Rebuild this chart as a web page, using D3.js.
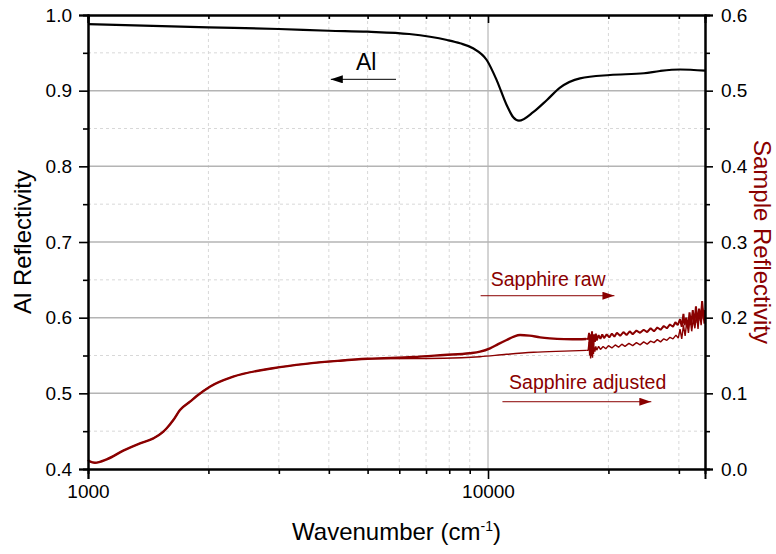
<!DOCTYPE html>
<html>
<head>
<meta charset="utf-8">
<script src="https://cdn.jsdelivr.net/npm/d3@7"></script>
<style>
  body { margin: 0; background: #fff; }
  svg { font-family: "Liberation Sans", Arial, sans-serif; }
  .axis path, .axis line { stroke: #000; }
  .axis text { font-size: 19px; fill: #000; }
</style>
</head>
<body>
<svg id="chart"></svg>
<script>
// Al reference mirror (left axis)
const alWavenumber = [1000, 2000, 3000, 4000, 5000, 6353, 7900, 8511, 9173, 9925, 10510, 11132, 11564, 11950, 12995, 14040, 15136, 16982, 20180, 24550, 26915, 30200, 34870];
const alReflect = [0.988, 0.9837, 0.9815, 0.9792, 0.9779, 0.9749, 0.967, 0.9626, 0.956, 0.9405, 0.914, 0.881, 0.8648, 0.8603, 0.872, 0.8877, 0.904, 0.9163, 0.9207, 0.923, 0.926, 0.928, 0.9264];

// sapphire, low-wavenumber part shared by both curves (right axis)
const sharedWavenumber = [1000, 1010, 1041, 1114, 1225, 1349, 1457, 1543, 1573, 1634, 1698, 1799, 1870, 2017, 2306, 2899, 3500, 4266];
const sharedReflect = [0.0119, 0.010, 0.0083, 0.0128, 0.0242, 0.0339, 0.0405, 0.0493, 0.0538, 0.0647, 0.078, 0.089, 0.0965, 0.1088, 0.122, 0.1331, 0.139, 0.1431];

// smooth middle parts
const rawWavenumber = [5000, 6500, 7763, 9000, 9550, 10116, 10600, 11130, 11600, 12023, 12700, 13500, 14280, 15500, 16264, 17600];
const rawReflect = [0.1457, 0.148, 0.1507, 0.1530, 0.1551, 0.1595, 0.165, 0.1705, 0.175, 0.1771, 0.1762, 0.174, 0.1727, 0.1716, 0.1714, 0.1718];
const adjWavenumber = [5000, 6500, 7763, 9550, 11130, 13000, 15500, 17600];
const adjReflect = [0.1455, 0.146, 0.1463, 0.1484, 0.1516, 0.1542, 0.1558, 0.1568];

// noisy high-wavenumber tails
const rawNoisyWavenumber = [17600, 17800, 17900, 17950, 18000, 18050, 18100, 18150, 18200, 18250, 18300, 18350, 18400, 18500, 18600, 18700, 18900,
  19100, 19300, 19500, 19800, 20100, 20400, 20700, 21000, 21400, 21800, 22200, 22600, 23000, 23500, 24000, 24500,
  25000, 25500, 26000, 26500, 27000, 27500, 28000, 28500, 29000, 29400, 29800, 30200, 30500, 30800, 31000, 31300,
  31600, 31900, 32200, 32500, 32800, 33100, 33400, 33700, 34000, 34300, 34600, 34870];
const rawNoisyReflect = [0.1718, 0.1722, 0.180, 0.160, 0.178, 0.150, 0.176, 0.156, 0.182, 0.152, 0.177, 0.162, 0.178, 0.168, 0.179, 0.170, 0.177,
  0.172, 0.178, 0.173, 0.178, 0.174, 0.179, 0.175, 0.180, 0.176, 0.181, 0.177, 0.182, 0.178, 0.183, 0.180, 0.184,
  0.181, 0.186, 0.182, 0.187, 0.184, 0.189, 0.186, 0.191, 0.188, 0.194, 0.190, 0.198, 0.188, 0.205, 0.190, 0.200,
  0.186, 0.207, 0.190, 0.210, 0.192, 0.215, 0.193, 0.212, 0.196, 0.222, 0.198, 0.210];
const adjNoisyWavenumber = [17600, 17800, 17900, 17950, 18000, 18050, 18100, 18150, 18200, 18250, 18300, 18350, 18400, 18500, 18600, 18700, 18900,
  19100, 19400, 19700, 20000, 20400, 20800, 21200, 21600, 22000, 22500, 23000, 23500, 24000, 24500, 25000, 25500,
  26000, 26500, 27000, 27500, 28000, 28500, 29000, 29500, 29900, 30200, 30500, 30800, 31100, 31400, 31700, 32000,
  32300, 32600, 32900, 33200, 33500, 33800, 34100, 34400, 34700, 34870];
const adjNoisyReflect = [0.1568, 0.157, 0.168, 0.150, 0.166, 0.146, 0.163, 0.149, 0.172, 0.147, 0.165, 0.152, 0.162, 0.155, 0.162, 0.157, 0.162,
  0.158, 0.162, 0.159, 0.163, 0.160, 0.164, 0.161, 0.165, 0.162, 0.166, 0.163, 0.167, 0.164, 0.168, 0.165, 0.169,
  0.167, 0.171, 0.168, 0.172, 0.170, 0.174, 0.172, 0.177, 0.173, 0.185, 0.172, 0.190, 0.176, 0.195, 0.180, 0.200,
  0.182, 0.198, 0.186, 0.205, 0.185, 0.208, 0.190, 0.212, 0.192, 0.200];

const xMajorTicks = [1000, 10000];
const xMinorTicks = [2000, 3000, 4000, 5000, 6000, 7000, 8000, 9000, 20000, 30000];
const leftTicks = [0.4, 0.5, 0.6, 0.7, 0.8, 0.9, 1.0];
const leftMinor = [0.45, 0.55, 0.65, 0.75, 0.85, 0.95];
const rightTicks = [0.0, 0.1, 0.2, 0.3, 0.4, 0.5, 0.6];
const rightMinor = [0.05, 0.15, 0.25, 0.35, 0.45, 0.55];

const wine = '#8a0000';

const width = 776, height = 554;
const margin = {top: 15, right: 71, bottom: 85, left: 88};
const w = width - margin.left - margin.right;
const h = height - margin.top - margin.bottom;

const svg = d3.select('#chart').attr('width', width).attr('height', height);
const chart = svg.append('g').attr('transform', `translate(${margin.left},${margin.top})`);

const x = d3.scaleLog().domain([1000, 34870]).range([0, w]);
const yL = d3.scaleLinear().domain([0.4, 1.0]).range([h, 0]);
const yR = d3.scaleLinear().domain([0.0, 0.6]).range([h, 0]);

// grid
const grid = chart.append('g');
grid.selectAll('.vminor').data(xMinorTicks).join('line')
    .attr('x1', d => x(d)).attr('x2', d => x(d)).attr('y1', 0).attr('y2', h)
    .attr('stroke', '#d8d8d8').attr('stroke-dasharray', '3,3');
grid.selectAll('.hminor').data(leftMinor).join('line')
    .attr('x1', 0).attr('x2', w).attr('y1', d => yL(d)).attr('y2', d => yL(d))
    .attr('stroke', '#d8d8d8').attr('stroke-dasharray', '3,3');
grid.append('line')
    .attr('x1', x(10000)).attr('x2', x(10000)).attr('y1', 0).attr('y2', h)
    .attr('stroke', '#a8a8a8').attr('stroke-width', 1);
grid.selectAll('.hmajor').data(leftTicks.slice(1, -1)).join('line')
    .attr('x1', 0).attr('x2', w).attr('y1', d => yL(d)).attr('y2', d => yL(d))
    .attr('stroke', '#b4b4b4').attr('stroke-width', 1.5);

// curves
const alLine = d3.line().x(d => x(d[0])).y(d => yL(d[1])).curve(d3.curveMonotoneX);
const sLine = d3.line().x(d => x(d[0])).y(d => yR(d[1])).curve(d3.curveMonotoneX);
const sNoisy = d3.line().x(d => x(d[0])).y(d => yR(d[1]));

const alData = d3.zip(alWavenumber, alReflect);
const rawData = d3.zip(sharedWavenumber.concat(rawWavenumber), sharedReflect.concat(rawReflect));
const adjData = d3.zip(sharedWavenumber.concat(adjWavenumber), sharedReflect.concat(adjReflect));
const rawNoisy = d3.zip(rawNoisyWavenumber, rawNoisyReflect);
const adjNoisy = d3.zip(adjNoisyWavenumber, adjNoisyReflect);

chart.append('path').datum(adjData).attr('d', sLine)
    .attr('fill', 'none').attr('stroke', wine).attr('stroke-width', 1.4);
chart.append('path').datum(adjNoisy).attr('d', sNoisy)
    .attr('fill', 'none').attr('stroke', wine).attr('stroke-width', 1.4).attr('stroke-linejoin', 'bevel');
chart.append('path').datum(rawData).attr('d', sLine)
    .attr('fill', 'none').attr('stroke', wine).attr('stroke-width', 2.4);
chart.append('path').datum(rawNoisy).attr('d', sNoisy)
    .attr('fill', 'none').attr('stroke', wine).attr('stroke-width', 2).attr('stroke-linejoin', 'bevel');
chart.append('path').datum(alData).attr('d', alLine)
    .attr('fill', 'none').attr('stroke', '#000').attr('stroke-width', 2.2);

// axes
const styleAxis = g => g.call(g => g.selectAll('path, line').attr('stroke-width', 1.6));

chart.append('g').attr('class', 'axis').attr('transform', `translate(0,${h})`)
    .call(d3.axisBottom(x).tickValues(xMajorTicks).tickSize(10).tickPadding(6).tickFormat(d3.format('d')))
    .call(styleAxis);
chart.append('g').attr('class', 'axis').attr('transform', `translate(0,${h})`)
    .call(d3.axisBottom(x).tickValues(xMinorTicks).tickSize(5).tickFormat(''))
    .call(styleAxis);
chart.append('g').attr('class', 'axis')
    .call(d3.axisTop(x).tickValues(xMajorTicks).tickSize(-8).tickFormat(''))
    .call(styleAxis);
chart.append('g').attr('class', 'axis')
    .call(d3.axisTop(x).tickValues(xMinorTicks).tickSize(-4).tickFormat(''))
    .call(styleAxis);

chart.append('g').attr('class', 'axis')
    .call(d3.axisLeft(yL).tickValues(leftTicks).tickSize(9).tickPadding(7).tickFormat(d3.format('.1f')))
    .call(styleAxis);
chart.append('g').attr('class', 'axis')
    .call(d3.axisLeft(yL).tickValues(leftMinor).tickSize(5).tickFormat(''))
    .call(styleAxis);
chart.append('g').attr('class', 'axis').attr('transform', `translate(${w},0)`)
    .call(d3.axisRight(yR).tickValues(rightTicks).tickSize(8).tickPadding(8).tickFormat(d3.format('.1f')))
    .call(styleAxis);
chart.append('g').attr('class', 'axis').attr('transform', `translate(${w},0)`)
    .call(d3.axisRight(yR).tickValues(rightMinor).tickSize(5).tickFormat(''))
    .call(styleAxis);

chart.selectAll('.axis .domain').attr('stroke-width', 2);

// axis titles
svg.append('text')
    .attr('transform', `translate(31,${margin.top + h / 2}) rotate(-90)`)
    .attr('text-anchor', 'middle').style('font-size', '24px').attr('fill', '#000')
    .text('Al Reflectivity');
svg.append('text')
    .attr('transform', `translate(754,${margin.top + h / 2}) rotate(90)`)
    .attr('text-anchor', 'middle').style('font-size', '24px').attr('fill', wine)
    .text('Sample Reflectivity');
const xt = svg.append('text')
    .attr('x', margin.left + w / 2).attr('y', 540)
    .attr('text-anchor', 'middle').style('font-size', '24px').attr('fill', '#000');
xt.append('tspan').text('Wavenumber (cm');
xt.append('tspan').attr('dy', -9).style('font-size', '14px').text('-1');
xt.append('tspan').attr('dy', 9).text(')');

// annotations
const defs = svg.append('defs');
[['headBlack', '#000'], ['headWine', wine]].forEach(([id, c]) => {
  defs.append('marker').attr('id', id).attr('viewBox', '0 0 12 8')
      .attr('refX', 12).attr('refY', 4).attr('markerWidth', 12).attr('markerHeight', 8)
      .attr('markerUnits', 'userSpaceOnUse').attr('orient', 'auto')
    .append('path').attr('d', 'M0,0L12,4L0,8Z').attr('fill', c);
});

chart.append('text').attr('x', x(4677)).attr('y', yL(0.9273))
    .style('font-size', '23px').attr('fill', '#000').text('Al');
chart.append('line').attr('x1', x(5888)).attr('x2', x(4046)).attr('y1', yL(0.915)).attr('y2', yL(0.915))
    .attr('stroke', '#000').attr('stroke-width', 1).attr('marker-end', 'url(#headBlack)');

chart.append('text').attr('x', x(10157)).attr('y', yR(0.2422))
    .style('font-size', '19.5px').attr('fill', wine).text('Sapphire raw');
chart.append('line').attr('x1', x(9582)).attr('x2', x(20704)).attr('y1', yR(0.229)).attr('y2', yR(0.229))
    .attr('stroke', wine).attr('stroke-width', 1).attr('marker-end', 'url(#headWine)');

chart.append('text').attr('x', x(11290)).attr('y', yR(0.1057))
    .style('font-size', '19.5px').attr('fill', wine).text('Sapphire adjusted');
chart.append('line').attr('x1', x(10865)).attr('x2', x(25600)).attr('y1', yR(0.0889)).attr('y2', yR(0.0889))
    .attr('stroke', wine).attr('stroke-width', 1).attr('marker-end', 'url(#headWine)');
</script>
</body>
</html>
